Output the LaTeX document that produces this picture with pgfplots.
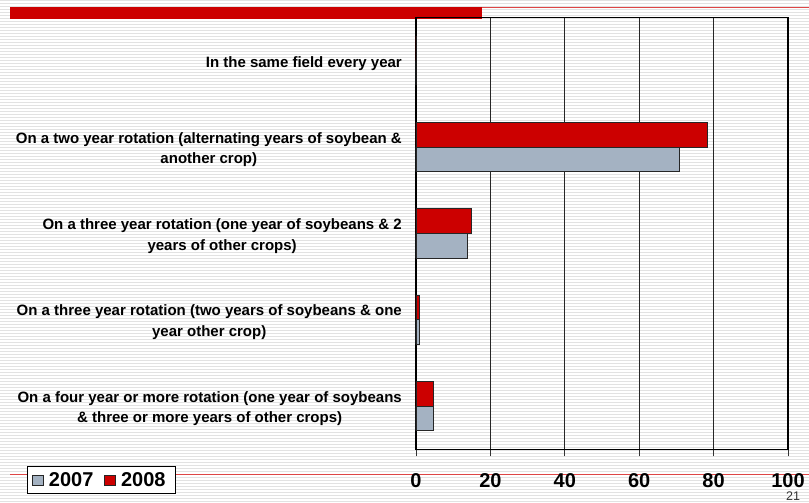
\documentclass[border=0pt]{standalone}
\usepackage{fontspec}
\setmainfont{Liberation Sans}
\usepackage{pgfplots}
\pgfplotsset{compat=1.18}
\definecolor{barred}{RGB}{204,0,0}
\definecolor{bargray}{RGB}{164,178,194}
\definecolor{stripe}{RGB}{226,226,226}
\definecolor{linered}{RGB}{222,70,70}

\begin{document}
\begin{tikzpicture}
\useasboundingbox (0pt,0pt) rectangle (809pt,503pt);
% slide background: white with thin grey stripes
\fill[white] (0pt,0pt) rectangle (809pt,503pt);
\foreach \k [evaluate=\k as \yy using 3*\k+1.5] in {0,...,167}
  \draw[stripe, line width=0.9pt] (0pt,\yy pt) -- (809pt,\yy pt);
% slide decorations
\fill[barred] (10pt,484pt) rectangle (482pt,496.3pt);
\draw[linered, line width=1.2pt] (482pt,495.5pt) -- (809pt,495.5pt);
\draw[linered, line width=1.2pt] (10pt,28.7pt) -- (809pt,28.7pt);
\node[anchor=south, font=\fontsize{12.5}{14}\selectfont, text=black!80, inner sep=0pt] at (793pt,2.2pt) {21};

\begin{axis}[
  at={(416pt,53.7pt)}, anchor=south west,
  scale only axis, width=372pt, height=431.8pt,
  xbar, bar width=0.284,
  xmin=0, xmax=100, ymin=-0.5, ymax=4.5,
  xtick={0,20,...,100},
  ytick={0,...,4},
  yticklabels={
    {On a four year or more rotation (one year of soybeans\\\& three or more years of other crops)},
    {On a three year rotation (two years of soybeans \& one\\year other crop)},
    {On a three year rotation (one year of soybeans \& 2\\years of other crops)},
    {On a two year rotation (alternating years of soybean \&\\another crop)},
    {In the same field every year}},
  extra y ticks={-0.5,0.5,1.5,2.5,3.5},
  extra y tick labels={},
  extra y tick style={major tick length=5pt, tick style={draw=black, line width=0.8pt}},
  tick pos=left,
  tick align=outside,
  major tick length=7pt,
  xtick style={draw=black!80, line width=0.8pt},
  ytick style={draw=none},
  xmajorgrids=true,
  major x grid style={black!85, line width=0.6pt},
  axis line style={black, line width=1.1pt},
  /pgf/number format/assume math mode=true,
  xticklabel style={font=\fontsize{20}{22}\selectfont\bfseries, yshift=-14pt},
  yticklabel style={font=\fontsize{15}{20.5}\selectfont\bfseries, align=center, inner sep=0pt, xshift=-7pt, yshift=-2.5pt},
  legend columns=2,
  legend style={at={(-1.0457,-0.1035)}, anchor=south west, draw=black, line width=0.8pt,
    fill=white, font=\fontsize{20}{22}\selectfont\bfseries,
    inner xsep=5pt, inner ysep=4pt,
    nodes={inner xsep=5pt},
    /tikz/every even column/.append style={column sep=6pt}},
  legend image code/.code={\draw[#1, line width=0.6pt] (0pt,-5pt) rectangle (11pt,5pt);},
]
\addplot[fill=bargray, draw=black!85, line width=0.8pt, bar shift=-0.142]
  coordinates {(0,4) (70.9,3) (13.9,2) (1.0,1) (4.8,0)};
\addlegendentry{2007}
\addplot[fill=barred, draw=black!85, line width=0.8pt, bar shift=0.142]
  coordinates {(0,4) (78.2,3) (14.9,2) (1.0,1) (4.8,0)};
\addlegendentry{2008}
\end{axis}
\end{tikzpicture}
\end{document}
